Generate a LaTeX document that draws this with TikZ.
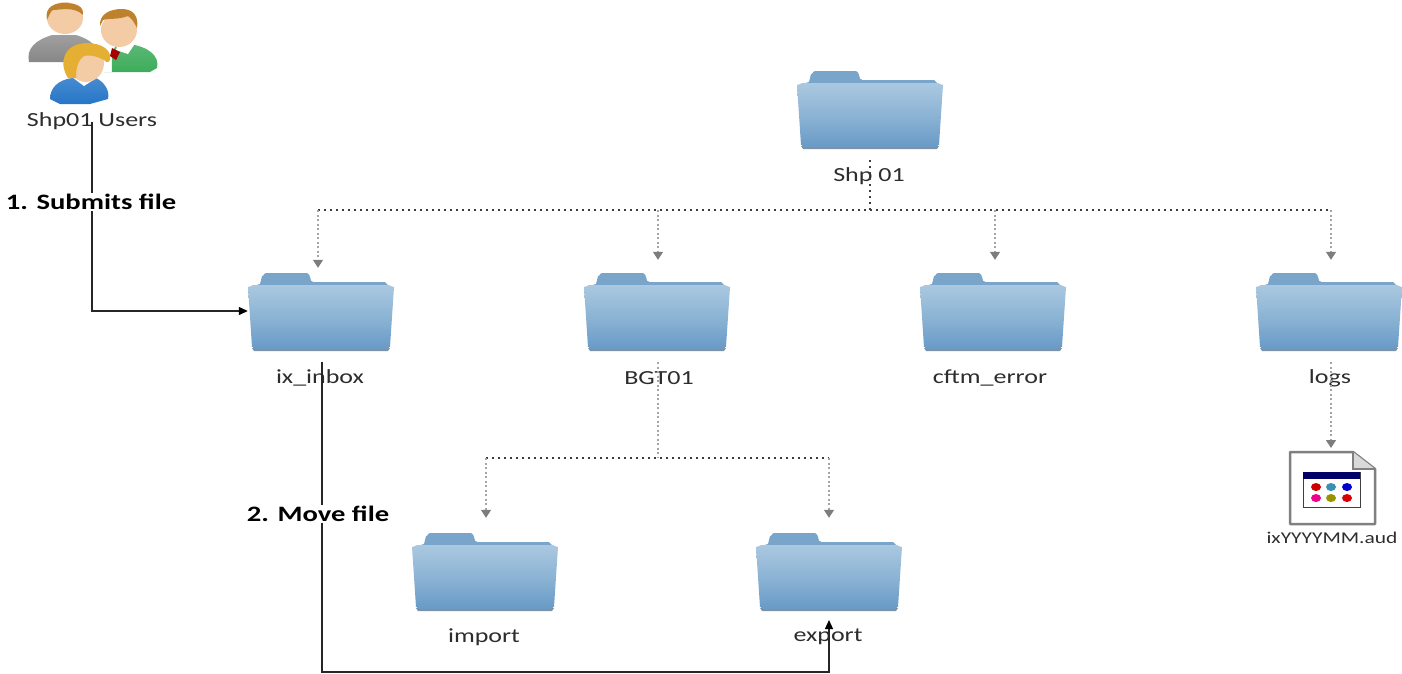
\documentclass[tikz,border=0pt]{standalone}
\usepackage{fontspec}
\setmainfont[FakeStretch=1.3]{Carlito}
\usetikzlibrary{arrows.meta,calc}
\definecolor{fbody}{RGB}{170,200,224}
\definecolor{fbodyb}{RGB}{104,154,198}
\definecolor{fback}{RGB}{122,165,203}
\definecolor{fdark}{RGB}{70,100,128}
\definecolor{dotgray}{RGB}{165,165,165}
\definecolor{arrowgray}{RGB}{125,125,125}
\definecolor{dotdark}{RGB}{60,60,60}
\definecolor{labelc}{RGB}{45,45,45}
\definecolor{skin}{RGB}{243,203,165}
\definecolor{hairb}{RGB}{190,130,45}
\definecolor{hairy}{RGB}{228,175,50}
\definecolor{shgray}{RGB}{135,135,135}
\definecolor{shgreen}{RGB}{62,172,92}
\definecolor{shblue}{RGB}{38,118,200}
\tikzset{
 x=1pt,y=-1pt,
 folderbox/.style={minimum width=146pt,minimum height=78pt,inner sep=0pt},
 lab/.style={font=\fontsize{20}{20}\selectfont,text=labelc,inner sep=0pt},
 steplab/.style={font=\fontsize{22}{22}\selectfont\bfseries,text=black,fill=white,inner sep=1pt},
 dots/.style={dotgray,line width=1.3pt,dash pattern=on 2pt off 2.5pt},
 dotsdark/.style={dotdark,line width=1.3pt,dash pattern=on 1.5pt off 4.5pt},
 dotarrow/.style={dots,-{Triangle[width=10pt,length=8pt,color=arrowgray]}},
 flow/.style={black!85,line width=1.2pt},
 flowarrow/.style={flow,-{Triangle[width=8pt,length=9pt,color=black]}},
}
\newcommand\folder[6]{%
 \begin{scope}[shift={(#2,#3)}]
  \fill[fback] (-61,12) -- (-59,4) to[out=-80,in=180] (-55,1) -- (-14,1) to[out=0,in=-110] (-9,9) -- (-8,10) -- (64,10) -- (68,14) -- (-68,14) -- cycle;
  \fill[fdark,opacity=.7] (-69,76) -- (69,76) -- (67,79) -- (-67,79) -- cycle;
  \shade[top color=fbody,bottom color=fbodyb,middle color=fbody!55!fbodyb]
    (-73,15) to[out=-20,in=180] (-68,13) -- (68,13) to[out=0,in=-160] (73,15) -- (69,75) to[out=100,in=0] (66,77) -- (-66,77) to[out=180,in=80] (-69,75) -- cycle;
 \end{scope}
 \node[folderbox] (#1) at (#2,{#3+39}) {};
 \node[lab] (#1lab) at (#4,#5) {#6};
}
\begin{document}
\begin{tikzpicture}
\useasboundingbox (0,0) rectangle (1402,673);
% Users icon
\shade[top color=shgray!80,bottom color=shgray]
  (29,62) .. controls (26,48) and (36,40) .. (52,35) -- (76,35) .. controls (92,40) and (98,46) .. (100,62) -- cycle;
\fill[skin] (65,18) ellipse [x radius=18,y radius=16];
\fill[hairb] (47,20) .. controls (44,6) and (56,3) .. (64,3) .. controls (76,3) and (84,6) .. (83,15) .. controls (74,6) and (60,10) .. (53,10) .. controls (50,12) and (49,16) .. (47,20) -- cycle;
\shade[top color=shgreen!85,bottom color=shgreen]
  (104,72) -- (112,72) .. controls (112,60) and (110,50) .. (118,44) -- (128,44) .. controls (148,46) and (160,56) .. (157,68) -- (150,72) -- cycle;
\fill[white] (118,42) -- (136,42) -- (128,54) -- (116,50) -- cycle;
\fill[red!65!black] (112,48) -- (120,52) -- (116,60) -- (110,56) -- cycle;
\fill[skin] (119,30) ellipse [x radius=18,y radius=17];
\fill[hairb] (100,26) .. controls (99,14) and (110,9) .. (122,9) .. controls (133,9) and (139,16) .. (137,28) .. controls (134,22) and (132,19) .. (128,16) .. controls (118,20) and (108,18) .. (103,20) -- cycle;
\shade[top color=shblue!85,bottom color=shblue]
  (50,99) .. controls (50,88) and (58,80) .. (72,78) -- (96,78) .. controls (104,82) and (110,90) .. (108,99) -- (90,104) -- (60,104) -- cycle;
\fill[white] (72,77) -- (84,86) -- (98,77) -- (92,74) -- (76,74) -- cycle;
\fill[skin] (86,63) ellipse [x radius=18,y radius=19];
\fill[hairy] (68,78) .. controls (58,62) and (64,44) .. (86,43) .. controls (102,43) and (112,50) .. (110,60) .. controls (108,64) and (106,62) .. (104,60) .. controls (100,58) and (92,54) .. (84,56) .. controls (78,60) and (76,68) .. (76,78) -- cycle;
\node[lab] (users) at (92,121) {Shp01 Users};
% Folders
\folder{shp}{870}{70}{869}{176}{Shp 01}
\folder{inbox}{321}{272}{320}{378}{ix\_inbox}
\folder{bgt}{657}{272}{659}{378}{BGT01}
\folder{cftm}{993}{272}{990}{378}{cftm\_error}
\folder{logs}{1329}{272}{1330}{378}{logs}
\folder{import}{485}{532}{484}{637}{import}
\folder{export}{829}{532}{828}{637}{export}
% File icon
\draw[gray,line width=2.5pt,fill=white,line join=round] (1290,452) -- (1353,452) -- (1375,469) -- (1375,524) -- (1290,524) -- cycle;
\fill[gray!30] (1353,452) -- (1375,469) -- (1353,469) -- cycle;
\draw[gray,line width=1.5pt] (1353,452) -- (1353,469) -- (1375,469);
\draw[black!75,fill=white,line width=1pt] (1303,472) rectangle (1360,507);
\fill[blue!40!black] (1303,472) rectangle (1360,479);
\fill[red!80!black] (1316,487) ellipse [x radius=5,y radius=4];
\fill[cyan!70!black] (1331,487) ellipse [x radius=5,y radius=4];
\fill[blue!80!black] (1347,487) ellipse [x radius=5,y radius=4];
\fill[magenta] (1316,498) ellipse [x radius=5,y radius=4];
\fill[olive!90!yellow] (1331,498) ellipse [x radius=5,y radius=4];
\fill[red!85!black] (1347,498) ellipse [x radius=5,y radius=4];
\node[lab,font=\fontsize{16.5}{16.5}\selectfont] (aud) at (1332,538) {ixYYYYMM.aud};
% Dotted hierarchy
\coordinate (shpstart) at (870,160);
\coordinate (bus) at (870,210);
\coordinate (dropA) at (318,210);
\coordinate (dropB) at (658,210);
\coordinate (dropC) at (995,210);
\coordinate (dropD) at (1331,210);
\draw[dotsdark] (shpstart) -- (bus);
\draw[dotsdark] (dropA) -- (dropD);
\draw[dotarrow,shorten >=4pt] (dropA) -- (dropA |- inbox.north);
\draw[dotarrow,shorten >=12pt] (dropB) -- (dropB |- bgt.north);
\draw[dotarrow,shorten >=12pt] (dropC) -- (dropC |- cftm.north);
\draw[dotarrow,shorten >=12pt] (dropD) -- (dropD |- logs.north);
\coordinate (bgtstart) at (658,362);
\coordinate (bgtbus) at (658,458);
\coordinate (dropE) at (486,458);
\coordinate (dropF) at (829,458);
\draw[dots] (bgtstart) -- (bgtbus);
\draw[dotsdark] (dropE) -- (dropF);
\draw[dotarrow,shorten >=14pt] (dropE) -- (dropE |- import.north);
\draw[dotarrow,shorten >=14pt] (dropF) -- (dropF |- export.north);
\coordinate (logsstart) at (1331,362);
\coordinate (filetop) at (1331,448);
\draw[dotarrow] (logsstart) -- (filetop);
% Flow connectors
\coordinate (userstart) at (92,122);
\coordinate (inboxstart) at (322,362);
\coordinate (exportend) at (829,620);
\draw[flowarrow] (userstart) |- (inbox.west);
\draw[flowarrow] (inboxstart) -- (322,672) -- (829,672) -- (exportend);
\node[steplab] (s1) at (91,202) {1. Submits file};
\node[steplab] (s2) at (318,514) {2. Move file};
\end{tikzpicture}
\end{document}
